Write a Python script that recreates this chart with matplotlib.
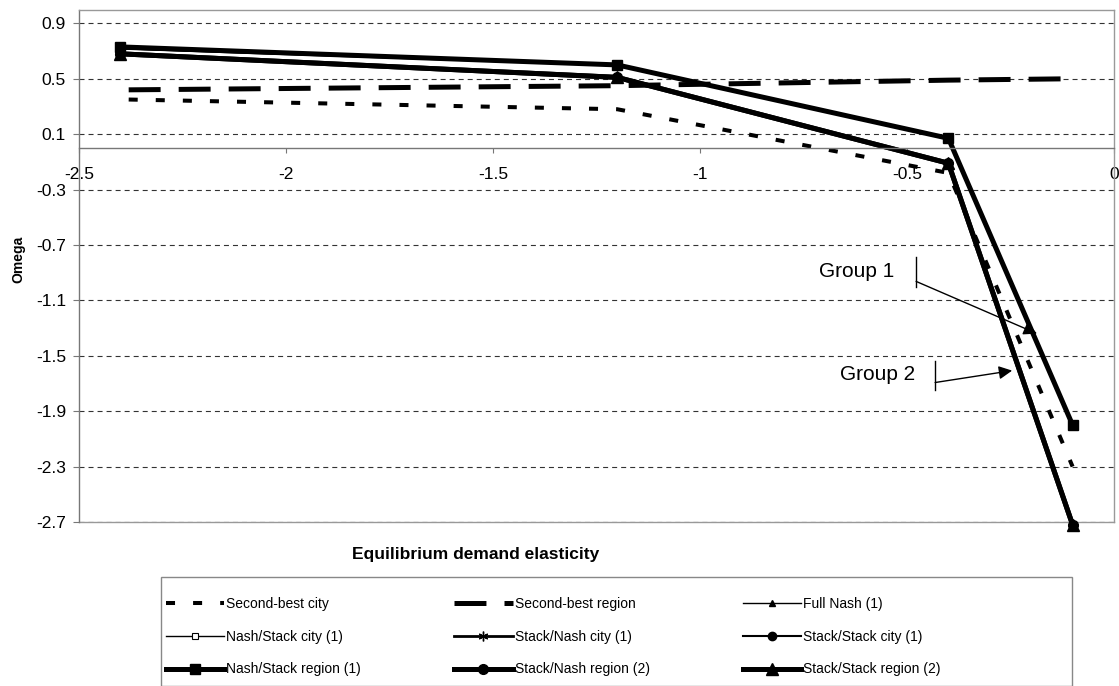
import matplotlib
matplotlib.use('Agg')
import matplotlib.pyplot as plt
from matplotlib.patches import Rectangle

plt.rcParams['font.family'] = ['Liberation Sans', 'DejaVu Sans']
plt.rcParams['lines.scale_dashes'] = False

# ---------------- data ----------------
x = [-2.4, -1.2, -0.4, -0.1]
x_second_best = [-2.38, -1.2, -0.4, -0.1]
second_best_city = [0.35, 0.28, -0.18, -2.30]
second_best_region = [0.42, 0.45, 0.49, 0.50]
full_nash_1 = [0.72, 0.60, 0.07, -2.00]
nash_stack_city_1 = [0.72, 0.60, 0.07, -2.00]
stack_nash_city_1 = [0.72, 0.60, 0.07, -2.00]
stack_stack_city_1 = [0.72, 0.60, 0.07, -2.00]
nash_stack_region_1 = [0.73, 0.60, 0.07, -2.00]
stack_nash_region_2 = [0.68, 0.51, -0.11, -2.72]
stack_stack_region_2 = [0.68, 0.51, -0.11, -2.72]

x_ticks = [-2.5, -2.0, -1.5, -1.0, -0.5, 0.0]
x_tick_labels = ['-2.5', '-2', '-1.5', '-1', '-0.5', '0']
y_ticks = [-2.7, -2.3, -1.9, -1.5, -1.1, -0.7, -0.3, 0.1, 0.5, 0.9]
y_tick_labels = ['-2.7', '-2.3', '-1.9', '-1.5', '-1.1', '-0.7', '-0.3', '0.1', '0.5', '0.9']

W, H = 1119, 686
fig = plt.figure(figsize=(W / 100, H / 100), dpi=100)
ax = fig.add_axes([79 / W, 1 - 522 / H, (1114 - 79) / W, (522 - 9.5) / H])
ax.set_xlim(-2.5, 0)
ax.set_ylim(-2.7, 1.0)

# ticks & gridlines
ax.set_yticks(y_ticks)
ax.set_yticklabels(y_tick_labels)
ax.set_xticks(x_ticks)
ax.set_xticklabels(x_tick_labels)
ax.grid(axis='y', color='#333333', lw=0.8, linestyle=(0, (3.6, 2.9)))
ax.grid(axis='x', visible=False)
ax.set_axisbelow(True)

# spines
ax.spines['bottom'].set_position(('data', 0))
for s in ['left', 'bottom']:
    ax.spines[s].set_color('#777777')
    ax.spines[s].set_linewidth(1.0)
for s in ['top', 'right']:
    ax.spines[s].set_color('#999999')
    ax.spines[s].set_linewidth(1.0)
ax.axhline(-2.7, color='#999999', lw=1.0, clip_on=False, zorder=0.5)

ax.tick_params(axis='x', direction='out', length=3.6, width=0.8, color='#777777',
               pad=10, labelsize=12.5)
ax.tick_params(axis='y', direction='out', length=4.3, width=0.8, color='#777777',
               pad=5, labelsize=12.5)

# series
h = {}
h['sbc'], = ax.plot(x_second_best, second_best_city, color='black', lw=2.9,
                    linestyle=(0, (6.5, 13)), dash_capstyle='butt',
                    label='Second-best city')
h['sbr'], = ax.plot(x_second_best, second_best_region, color='black', lw=3.6,
                    linestyle=(0, (23, 13)), dash_capstyle='butt',
                    label='Second-best region')
h['fn'], = ax.plot(x, full_nash_1, color='black', lw=1.0, marker='^', ms=4.5,
                   label='Full Nash (1)', clip_on=False)
h['nsc'], = ax.plot(x, nash_stack_city_1, color='black', lw=1.0, marker='s', ms=4.5,
                    mfc='white', mew=0.8, label='Nash/Stack city (1)', clip_on=False)
h['snc'], = ax.plot(x, stack_nash_city_1, color='black', lw=2.0, marker=(6, 2, 0), ms=7,
                    mew=1.0, label='Stack/Nash city (1)', clip_on=False)
h['ssc'], = ax.plot(x, stack_stack_city_1, color='black', lw=1.5, marker='o', ms=6,
                    label='Stack/Stack city (1)', clip_on=False)
h['nsr'], = ax.plot(x, nash_stack_region_1, color='black', lw=3.6, marker='s', ms=7.5,
                    label='Nash/Stack region (1)', clip_on=False)
h['snr'], = ax.plot(x, stack_nash_region_2, color='black', lw=3.6, marker='o', ms=7,
                    label='Stack/Nash region (2)', clip_on=False)
h['ssr'], = ax.plot(x, stack_stack_region_2, color='black', lw=3.6, marker='^', ms=8,
                    label='Stack/Stack region (2)', clip_on=False)

# annotations
ax.text(-0.621, -0.89, 'Group 1', ha='center', va='center', fontsize=15)
ax.plot([-0.478, -0.478], [-0.79, -1.00], color='black', lw=1.0)
ax.annotate('', xy=(-0.186, -1.34), xytext=(-0.478, -0.963),
            arrowprops=dict(arrowstyle='-|>', color='black', lw=1.0,
                            mutation_scale=20, shrinkA=0, shrinkB=0))
ax.text(-0.572, -1.635, 'Group 2', ha='center', va='center', fontsize=15)
ax.plot([-0.432, -0.432], [-1.54, -1.75], color='black', lw=1.0)
ax.annotate('', xy=(-0.246, -1.607), xytext=(-0.432, -1.693),
            arrowprops=dict(arrowstyle='-|>', color='black', lw=1.0,
                            mutation_scale=20, shrinkA=0, shrinkB=0))

# axis labels
fig.text(18 / W, 1 - 259 / H, 'Omega', rotation=90, fontweight='bold', fontsize=10,
         ha='center', va='center')
fig.text(476 / W, 1 - 555 / H, 'Equilibrium demand elasticity', fontweight='bold',
         fontsize=12.5, ha='center', va='center')

# legend frame
fig.patches.append(Rectangle((161 / W, 0), (1072 - 161) / W, 1 - 577 / H,
                             transform=fig.transFigure, facecolor='white',
                             edgecolor='#888888', lw=1.0, zorder=0))

# legend (column-major order to get Excel row order)
order = ['sbc', 'nsc', 'nsr', 'sbr', 'snc', 'snr', 'fn', 'ssc', 'ssr']
handles = [h[k] for k in order]
labels = [hh.get_label() for hh in handles]
leg = fig.legend(handles, labels, loc='upper left',
                 bbox_to_anchor=(166 / W, 1 - 597 / H),
                 ncol=3, fontsize=10, handlelength=4.2,
                 handletextpad=0.15, labelspacing=1.35, borderpad=0,
                 columnspacing=6.7, borderaxespad=0, frameon=False)

fig.savefig('out.png', dpi=100)
